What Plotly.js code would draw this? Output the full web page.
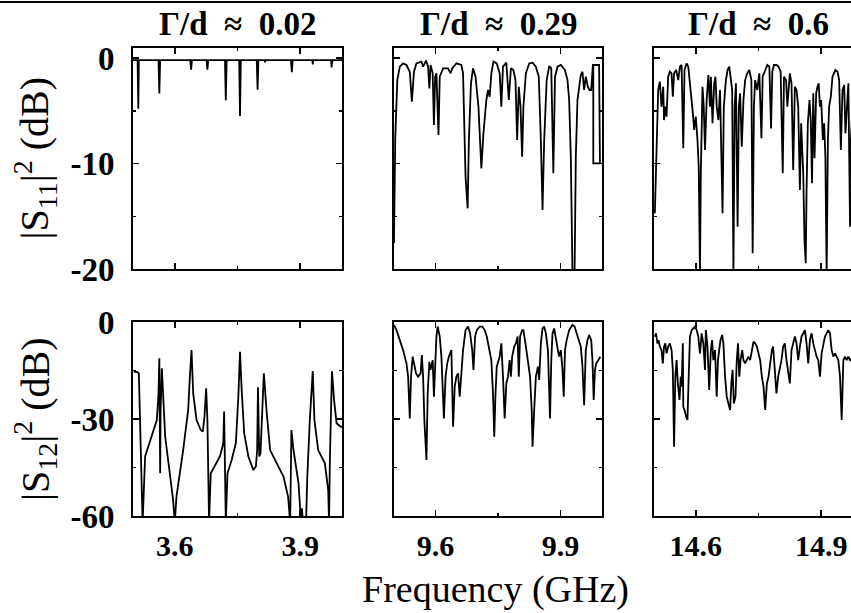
<!DOCTYPE html>
<html><head><meta charset="utf-8">
<script src="https://cdn.plot.ly/plotly-3.0.1.min.js"></script>
<style>html,body{margin:0;padding:0;overflow:hidden;background:#fff}#chart{width:880px;height:613px}</style>
</head><body><div id="chart"></div><script>
// ---- data: [frequency (GHz), dB] ----
const panelTitles = ['Γ/d ≈ 0.02', 'Γ/d ≈ 0.29', 'Γ/d ≈ 0.6'];
const freqRanges = [[3.5, 4.0], [9.5, 10.0], [14.5, 15.0]];
const freqTickVals = [[3.6, 3.9], [9.6, 9.9], [14.6, 14.9]];
const freqMinorVals = [[3.75], [9.75], [14.75]];
const s11TickVals = [0, -10, -20];
const s11TickText = ['0', '-10', '-20'];
const s11Minor = [-5, -15];
const s12TickVals = [0, -30, -60];
const s12TickText = ['0', '-30', '-60'];
const s12Minor = [-15, -45];

const s11_a = [[3.500,-0.2],[3.511,-0.2],[3.5127,-4.8],[3.514,-0.2],[3.561,-0.2],[3.563,-3.35],[3.565,-0.2],
[3.637,-0.2],[3.639,-1.1],[3.641,-0.2],[3.676,-0.2],[3.678,-1.1],[3.680,-0.2],[3.720,-0.2],[3.722,-4.0],[3.724,-0.2],
[3.754,-0.2],[3.756,-5.5],[3.758,-0.2],[3.796,-0.2],[3.798,-3.0],[3.800,-0.2],[3.815,-0.2],[3.816,-0.4],[3.817,-0.2],
[3.878,-0.2],[3.880,-1.35],[3.882,-0.2],[3.929,-0.2],[3.930,-0.6],[3.931,-0.2],[3.974,-0.2],[3.975,-0.9],[3.977,-0.2],[4.000,-0.2]];

const s11_b = [[9.500,-17.57],[9.503,-7.77],[9.508,-2.09],[9.514,-0.82],[9.522,-0.51],[9.530,-0.66],[9.538,-1.30],[9.543,-4.14],
[9.548,-1.30],[9.554,-0.51],[9.566,-0.35],[9.570,-0.82],[9.577,-0.25],[9.582,-0.82],[9.585,-2.88],[9.588,-0.66],[9.593,-1.45],
[9.596,-6.35],[9.599,-1.77],[9.602,-1.45],[9.607,-7.30],[9.610,-1.77],[9.618,-0.98],[9.630,-0.98],[9.636,-1.45],[9.640,-0.98],
[9.650,-0.51],[9.662,-0.66],[9.666,-1.45],[9.669,-6.19],[9.672,-11.25],[9.677,-14.25],[9.680,-7.77],[9.685,-2.40],[9.690,-0.98],
[9.696,-1.77],[9.703,-4.61],[9.710,-10.46],[9.715,-7.14],[9.722,-3.98],[9.726,-3.03],[9.730,-3.67],[9.734,-1.45],[9.739,-0.35],
[9.747,-0.51],[9.754,-1.45],[9.758,-4.61],[9.762,-0.82],[9.770,-0.44],[9.776,-3.98],[9.781,-0.98],[9.787,-1.14],[9.792,-2.09],
[9.796,-7.77],[9.800,-2.72],[9.804,-4.61],[9.808,-9.35],[9.811,-4.61],[9.817,-1.45],[9.825,-0.51],[9.833,-0.44],[9.841,-0.82],
[9.848,-1.77],[9.853,-7.77],[9.857,-14.41],[9.861,-7.77],[9.867,-2.09],[9.873,-0.76],[9.878,-0.98],[9.883,-10.93],[9.887,-1.77],
[9.893,-0.82],[9.901,-0.66],[9.911,-1.14],[9.917,-2.09],[9.921,-3.98],[9.925,-9.35],[9.929,-20.5],[9.934,-20.5],[9.937,-9.35],
[9.941,-3.98],[9.949,-1.61],[9.953,-1.30],[9.957,-3.03],[9.961,-1.77],[9.966,-2.72],[9.970,-3.03],[9.974,-3.03],[9.978,-0.66],
[9.993,-0.66],[9.995,-9.98],[9.979,-9.98],[9.979,-0.66]];

const s11_c = [[14.502,-14.72],[14.506,-7.77],[14.510,-3.03],[14.514,-2.24],[14.518,-4.61],[14.522,-2.72],[14.524,-5.88],
[14.527,-4.61],[14.530,-5.56],[14.534,-1.77],[14.538,-1.30],[14.542,-1.45],[14.545,-3.67],[14.548,-1.45],[14.553,-1.14],
[14.558,-2.09],[14.562,-0.82],[14.566,-0.66],[14.570,-8.56],[14.573,-1.14],[14.578,-0.51],[14.582,-0.82],[14.588,-3.03],
[14.593,-5.24],[14.596,-6.82],[14.600,-5.56],[14.604,-7.77],[14.607,-10.30],[14.610,-20.5],[14.612,-10.93],[14.616,-2.72],
[14.619,-4.61],[14.622,-8.72],[14.626,-3.98],[14.630,-1.61],[14.634,-4.61],[14.636,-1.77],[14.640,-6.19],[14.644,-2.40],
[14.647,-1.77],[14.650,-4.61],[14.654,-5.88],[14.658,-3.03],[14.661,-8.72],[14.664,-14.72],[14.667,-4.61],[14.672,-2.09],
[14.676,-1.14],[14.680,-0.82],[14.683,-1.77],[14.687,-3.03],[14.690,-20.5],[14.693,-4.61],[14.696,-2.40],[14.700,-15.99],
[14.703,-4.61],[14.706,-3.35],[14.710,-8.40],[14.714,-3.98],[14.718,-2.09],[14.723,-1.45],[14.728,-1.14],[14.733,-2.09],
[14.736,-18.51],[14.739,-4.61],[14.742,-2.09],[14.747,-3.03],[14.752,-1.45],[14.757,-7.61],[14.760,-1.77],[14.766,-1.14],
[14.771,-0.66],[14.776,-0.82],[14.780,-6.67],[14.783,-1.30],[14.787,-0.66],[14.793,-0.66],[14.798,-0.82],[14.803,-1.30],
[14.808,-10.93],[14.811,-1.77],[14.816,-2.09],[14.819,-4.61],[14.822,-3.03],[14.825,-1.45],[14.829,-2.40],[14.833,-10.62],
[14.837,-2.72],[14.841,-3.03],[14.845,-4.61],[14.849,-12.51],[14.852,-6.19],[14.857,-10.93],[14.860,-17.25],[14.863,-19.46],
[14.865,-12.51],[14.868,-6.19],[14.872,-3.98],[14.875,-5.88],[14.878,-11.88],[14.881,-3.35],[14.884,-9.51],[14.888,-3.35],
[14.891,-2.72],[14.894,-2.40],[14.897,-4.61],[14.900,-3.98],[14.904,-7.77],[14.907,-6.19],[14.910,-9.35],[14.913,-20.5],
[14.916,-7.77],[14.919,-4.61],[14.923,-3.67],[14.927,-1.77],[14.934,-1.14],[14.939,-1.30],[14.943,-2.09],[14.947,-8.72],
[14.951,-3.03],[14.955,-2.56],[14.958,-7.14],[14.961,-4.61],[14.965,-2.40],[14.969,-15.99],[14.971,-7.77],[14.977,-3.03],
[14.989,-1.45],[15.000,-2.09]];

const s12_a = [[3.502,-15.4],[3.510,-15.4],[3.514,-15.9],[3.517,-32.4],[3.523,-62],[3.529,-41.6],[3.541,-36.5],[3.557,-30.3],
[3.561,-22.1],[3.563,-11.2],[3.565,-46.8],[3.566,-27.2],[3.569,-14.3],[3.577,-35.5],[3.589,-47.8],[3.596,-55.1],[3.600,-62],
[3.604,-54.0],[3.620,-39.6],[3.632,-27.2],[3.636,-16.9],[3.640,-8.7],[3.644,-22.1],[3.652,-30.3],[3.662,-33.4],[3.667,-33.9],
[3.671,-29.3],[3.675,-20.5],[3.678,-30.3],[3.682,-62],[3.686,-46.8],[3.696,-44.2],[3.708,-41.6],[3.716,-37.5],[3.718,-27.7],
[3.722,-62],[3.726,-46.8],[3.736,-42.7],[3.746,-37.5],[3.752,-23.1],[3.756,-9.2],[3.760,-21.0],[3.766,-34.4],[3.776,-41.6],
[3.788,-45.8],[3.794,-44.7],[3.797,-39.6],[3.799,-20.2],[3.800,-27.2],[3.802,-41.6],[3.805,-40.6],[3.810,-27.2],[3.813,-15.9],
[3.820,-28.2],[3.828,-39.6],[3.844,-43.7],[3.860,-47.8],[3.871,-54.0],[3.876,-62],[3.879,-33.4],[3.884,-39.6],[3.896,-49.9],
[3.900,-58.1],[3.902,-62],[3.904,-57.6],[3.907,-62],[3.914,-62],[3.917,-47.8],[3.923,-30.3],[3.930,-15.2],[3.934,-30.3],
[3.943,-39.6],[3.959,-43.7],[3.967,-52.0],[3.969,-62],[3.971,-42.7],[3.976,-15.2],[3.981,-24.1],[3.987,-31.3],[3.997,-32.4],[4.000,-32.4]];

const s12_b = [[9.500,-0.9],[9.506,-2.5],[9.514,-5.6],[9.522,-8.7],[9.530,-12.8],[9.534,-16.9],[9.538,-29.8],[9.541,-16.9],
[9.545,-10.7],[9.548,-12.8],[9.553,-15.9],[9.558,-16.9],[9.564,-15.9],[9.567,-10.2],[9.570,-16.9],[9.573,-30.3],[9.578,-42.7],
[9.581,-22.1],[9.585,-12.3],[9.588,-14.8],[9.593,-11.8],[9.596,-23.1],[9.599,-11.8],[9.602,-4.5],[9.605,-1.4],[9.610,-4.5],
[9.614,-10.7],[9.618,-22.1],[9.620,-29.8],[9.624,-16.9],[9.628,-12.8],[9.632,-10.7],[9.638,-8.7],[9.642,-32.4],[9.646,-20.0],
[9.650,-16.9],[9.654,-15.9],[9.658,-23.1],[9.662,-16.9],[9.666,-8.7],[9.672,-2.5],[9.678,-1.4],[9.683,-3.5],[9.688,-8.7],
[9.691,-14.8],[9.695,-4.5],[9.699,-2.5],[9.706,-1.4],[9.712,-1.4],[9.718,-2.5],[9.723,-4.5],[9.730,-9.7],[9.734,-11.8],
[9.738,-22.1],[9.741,-35.5],[9.744,-22.1],[9.747,-13.8],[9.754,-10.7],[9.758,-6.6],[9.762,-16.9],[9.766,-29.8],[9.770,-19.0],
[9.774,-16.9],[9.778,-11.8],[9.781,-16.9],[9.784,-10.7],[9.789,-7.6],[9.793,-6.6],[9.797,-4.5],[9.800,-16.9],[9.803,-4.5],
[9.808,-2.5],[9.811,-2.5],[9.816,-6.6],[9.821,-10.7],[9.827,-16.9],[9.831,-27.2],[9.833,-38.6],[9.837,-27.2],[9.841,-16.9],
[9.846,-13.8],[9.849,-17.9],[9.853,-6.6],[9.857,-2.0],[9.861,-1.4],[9.865,-3.5],[9.870,-8.7],[9.875,-29.8],[9.878,-11.8],
[9.881,-3.5],[9.885,-2.0],[9.889,-4.5],[9.894,-8.7],[9.897,-10.7],[9.901,-8.7],[9.905,-14.8],[9.908,-23.1],[9.911,-8.7],
[9.915,-5.6],[9.921,-2.5],[9.929,-0.9],[9.934,-1.4],[9.939,-3.5],[9.943,-5.6],[9.949,-7.6],[9.953,-13.8],[9.957,-25.7],
[9.961,-8.7],[9.965,-5.6],[9.969,-4.0],[9.974,-5.6],[9.977,-11.8],[9.980,-24.1],[9.983,-14.8],[9.986,-12.8],[9.991,-11.8],[9.996,-10.7]];

const s12_c = [[14.502,-4.5],[14.505,-3.5],[14.508,-6.6],[14.511,-5.6],[14.514,-7.6],[14.518,-8.7],[14.521,-12.8],[14.524,-7.6],
[14.527,-6.6],[14.530,-9.7],[14.534,-7.6],[14.538,-6.6],[14.542,-8.7],[14.545,-14.8],[14.548,-38.6],[14.551,-16.9],[14.554,-11.8],
[14.557,-19.0],[14.561,-24.1],[14.564,-16.9],[14.566,-20.0],[14.569,-6.6],[14.570,-26.2],[14.573,-27.2],[14.577,-29.3],[14.580,-30.3],
[14.583,-16.9],[14.586,-4.5],[14.590,-2.5],[14.594,-2.0],[14.598,-1.4],[14.602,-2.5],[14.606,-4.5],[14.610,-9.7],[14.614,-3.5],
[14.618,-6.6],[14.622,-14.8],[14.624,-2.5],[14.628,-7.6],[14.632,-21.0],[14.636,-8.7],[14.639,-5.6],[14.642,-11.8],[14.646,-8.7],
[14.650,-23.1],[14.653,-11.8],[14.656,-8.7],[14.659,-5.6],[14.663,-4.0],[14.666,-6.6],[14.670,-16.9],[14.674,-23.1],[14.678,-25.2],
[14.682,-27.2],[14.685,-19.0],[14.688,-14.8],[14.691,-25.2],[14.695,-23.1],[14.698,-11.8],[14.701,-6.6],[14.704,-16.9],[14.707,-11.8],
[14.711,-8.7],[14.714,-11.8],[14.718,-12.8],[14.722,-11.8],[14.726,-10.7],[14.730,-11.8],[14.734,-8.7],[14.738,-6.1],[14.742,-6.6],
[14.746,-7.6],[14.750,-9.7],[14.754,-11.8],[14.758,-16.9],[14.762,-20.0],[14.766,-27.2],[14.770,-19.0],[14.774,-16.9],[14.778,-11.8],
[14.782,-8.7],[14.785,-7.6],[14.789,-16.9],[14.793,-22.1],[14.797,-16.9],[14.801,-14.8],[14.805,-11.8],[14.809,-7.6],[14.813,-6.6],
[14.817,-11.8],[14.821,-14.8],[14.825,-19.0],[14.829,-8.7],[14.833,-6.6],[14.837,-4.5],[14.841,-6.6],[14.845,-11.8],[14.849,-7.6],
[14.853,-4.5],[14.857,-3.5],[14.861,-2.5],[14.865,-6.6],[14.869,-12.8],[14.873,-5.6],[14.877,-3.5],[14.881,-6.6],[14.885,-8.7],
[14.889,-10.7],[14.893,-11.8],[14.897,-16.9],[14.901,-9.7],[14.905,-6.6],[14.909,-4.5],[14.913,-3.5],[14.917,-2.5],[14.921,-3.5],
[14.925,-8.7],[14.929,-10.7],[14.933,-9.7],[14.937,-10.7],[14.941,-11.8],[14.945,-16.9],[14.949,-30.3],[14.953,-11.8],[14.957,-10.7],
[14.961,-11.8],[14.965,-10.7],[14.969,-11.8],[14.985,-9.7],[15.000,-8.7]];

// ---- rendering ----
const FONT = 'Liberation Serif, "DejaVu Serif", serif';
const colDomains = [[0, 0.2863], [0.3575, 0.6425], [0.7137, 1]];
const rowDomains = [[0.5278, 1], [0, 0.4145]];
const series = [s11_a, s11_b, s11_c, s12_a, s12_b, s12_c];

const traces = series.map((s, i) => ({
  x: s.map(p => p[0]), y: s.map(p => p[1]),
  xaxis: 'x' + (i === 0 ? '' : i + 1), yaxis: 'y' + (i === 0 ? '' : i + 1),
  mode: 'lines', line: {color: 'black', width: 1.8}, hoverinfo: 'skip'
}));

const layout = {
  width: 880, height: 613,
  margin: {l: 133, r: 17, t: 48, b: 97},
  paper_bgcolor: 'white', plot_bgcolor: 'white',
  showlegend: false,
  font: {family: FONT, size: 28, color: 'black'},
  annotations: [], shapes: []
};

function common(standoff, size) {
  return {ticks: 'inside', ticklen: 6, tickwidth: 1.5, tickcolor: 'black', mirror: 'ticks',
    showline: true, linewidth: 2, linecolor: 'black', showgrid: false, zeroline: false,
    fixedrange: true, ticklabelstandoff: standoff, tickmode: 'array',
    tickfont: {family: FONT, size: size, weight: 'bold', color: 'black'}};
}

for (let i = 0; i < 6; i++) {
  const row = i < 3 ? 0 : 1, col = i % 3;
  const sfx = i === 0 ? '' : String(i + 1);
  const xa = Object.assign(common(2, 30), {
    domain: colDomains[col], range: freqRanges[col], anchor: 'y' + sfx,
    tickvals: freqTickVals[col], ticktext: freqTickVals[col].map(v => v.toFixed(1)),
    showticklabels: row === 1,
    minor: {tickmode: 'array', tickvals: freqMinorVals[col], ticks: 'inside', ticklen: 3, tickwidth: 1.5, tickcolor: 'black', showgrid: false}
  });
  const ya = Object.assign(common(10, 33), {
    domain: rowDomains[row], anchor: 'x' + sfx,
    range: row === 0 ? [-20, 0.95] : [-60, 0],
    tickvals: row === 0 ? s11TickVals : s12TickVals,
    ticktext: row === 0 ? s11TickText : s12TickText,
    showticklabels: col === 0,
    minor: {tickmode: 'array', tickvals: row === 0 ? s11Minor : s12Minor, ticks: 'inside', ticklen: 3, tickwidth: 1.5, tickcolor: 'black', showgrid: false}
  });
  layout['xaxis' + sfx] = xa;
  layout['yaxis' + sfx] = ya;
}

panelTitles.forEach((t, c) => {
  layout.annotations.push({text: t.replace(/ /g, '\u2002'), xref: 'paper', yref: 'paper', x: (colDomains[c][0] + colDomains[c][1]) / 2,
    y: 1.0513, xanchor: 'center', yanchor: 'middle', showarrow: false, font: {size: 33, weight: 'bold'}});
});
layout.annotations.push({text: '|S<sub>11</sub>|<sup>2</sup> (dB)', xref: 'paper', yref: 'paper', x: -0.1342,
  y: (rowDomains[0][0] + rowDomains[0][1]) / 2, textangle: -90, xanchor: 'center', yanchor: 'middle', showarrow: false, font: {size: 40}});
layout.annotations.push({text: '|S<sub>12</sub>|<sup>2</sup> (dB)', xref: 'paper', yref: 'paper', x: -0.1342,
  y: (rowDomains[1][0] + rowDomains[1][1]) / 2, textangle: -90, xanchor: 'center', yanchor: 'middle', showarrow: false, font: {size: 40}});
layout.annotations.push({text: 'Frequency (GHz)', xref: 'paper', yref: 'paper', x: 0.496, y: -0.158,
  xanchor: 'center', yanchor: 'middle', showarrow: false, font: {size: 38}});
layout.shapes.push({type: 'line', xref: 'paper', yref: 'paper', x0: -0.2, x1: 1.05, y0: 1.0983, y1: 1.0983,
  line: {color: 'black', width: 2}});

Plotly.newPlot('chart', traces, layout, {displayModeBar: false, staticPlot: true});
</script></body></html>
